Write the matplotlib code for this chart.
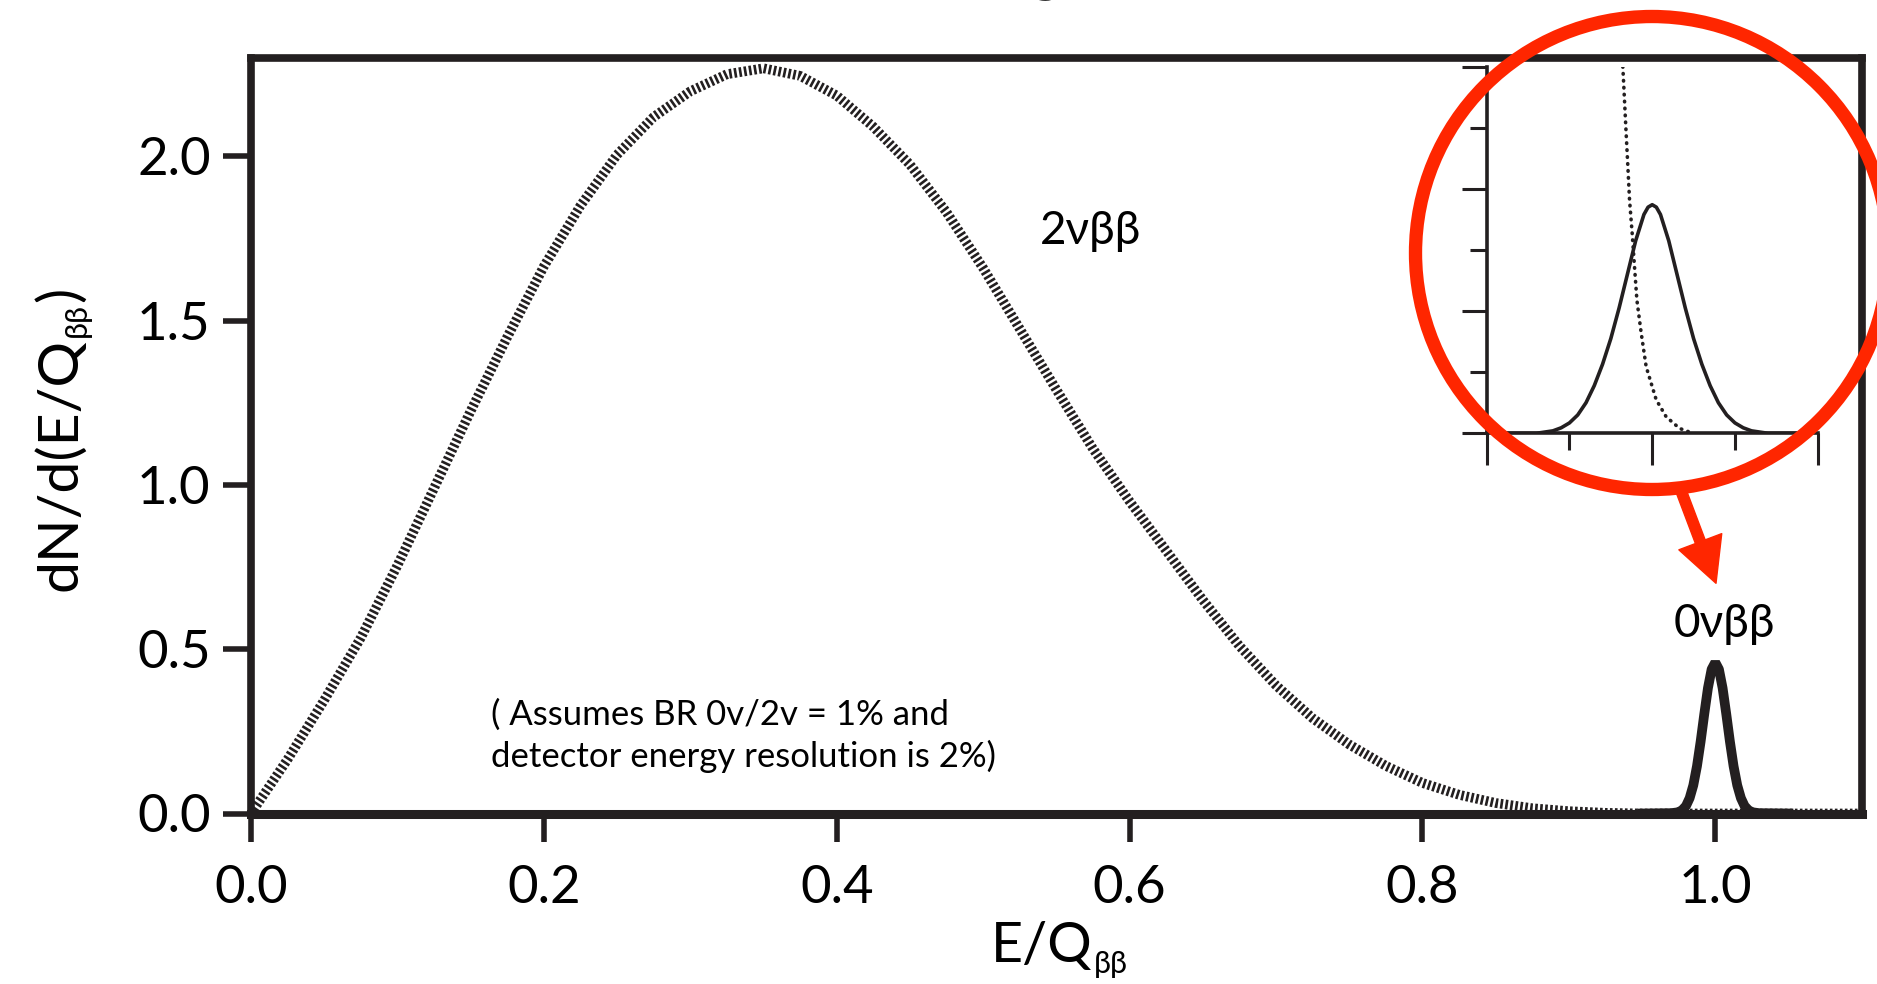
import matplotlib
matplotlib.use("Agg")
import matplotlib.pyplot as plt
from matplotlib.patches import Ellipse, FancyArrowPatch
from matplotlib.ticker import FixedLocator

# two-neutrino continuum, E/Q vs dN/d(E/Q)
e_2nu = [0.000, 0.025, 0.050, 0.075, 0.100, 0.125, 0.150, 0.175, 0.200, 0.225,
         0.250, 0.275, 0.300, 0.325, 0.350, 0.375, 0.400, 0.425, 0.450, 0.475,
         0.500, 0.525, 0.550, 0.575, 0.600, 0.625, 0.650, 0.675, 0.700, 0.725,
         0.750, 0.775, 0.800, 0.825, 0.850, 0.875, 0.900, 0.925, 0.950, 1.100]
n_2nu = [0.000, 0.165, 0.345, 0.535, 0.755, 0.990, 1.225, 1.450, 1.665, 1.850,
         2.005, 2.120, 2.198, 2.250, 2.268, 2.245, 2.185, 2.090, 1.975, 1.830,
         1.660, 1.475, 1.290, 1.110, 0.950, 0.800, 0.650, 0.510, 0.390, 0.290,
         0.210, 0.145, 0.093, 0.057, 0.032, 0.016, 0.007, 0.002, 0.000, 0.000]

# neutrinoless peak at the endpoint
e_0nu = [0.950, 0.970, 0.975, 0.9775, 0.980, 0.9825, 0.985, 0.9875, 0.990, 0.9925,
         0.995, 0.9975, 1.000, 1.0025, 1.005, 1.0075, 1.010, 1.0125, 1.015, 1.0175,
         1.020, 1.0225, 1.025, 1.030, 1.050]
n_0nu = [0.000, 0.001, 0.004, 0.011, 0.023, 0.047, 0.086, 0.144, 0.219, 0.303,
         0.382, 0.439, 0.460, 0.439, 0.382, 0.303, 0.219, 0.144, 0.086, 0.047,
         0.023, 0.011, 0.004, 0.001, 0.000]

# magnified view around the endpoint (arbitrary units)
zoom_x_peak = [-2.0, -1.4, -1.2, -1.1, -1.0, -0.9, -0.8, -0.7, -0.6, -0.5,
               -0.4, -0.3, -0.2, -0.1, -0.05, 0.0, 0.05, 0.1, 0.2, 0.3,
               0.4, 0.5, 0.6, 0.7, 0.8, 0.9, 1.0, 1.1, 1.2, 1.4, 1.9]
zoom_y_peak = [0.00, 0.00, 0.04, 0.09, 0.17, 0.30, 0.50, 0.78, 1.13, 1.55,
               2.05, 2.60, 3.15, 3.58, 3.70, 3.74, 3.70, 3.58, 3.15, 2.60,
               2.05, 1.55, 1.13, 0.78, 0.50, 0.30, 0.17, 0.09, 0.04, 0.00, 0.00]
zoom_x_tail = [-0.355, -0.315, -0.294, -0.274, -0.242, -0.214, -0.185, -0.133,
               -0.073, 0.048, 0.169, 0.331, 0.492]
zoom_y_tail = [6.00, 4.91, 4.36, 3.82, 3.27, 2.73, 2.18, 1.64, 1.09, 0.55,
               0.27, 0.08, 0.00]

x_ticks = [0.0, 0.2, 0.4, 0.6, 0.8, 1.0]
x_labels = ["0.0", "0.2", "0.4", "0.6", "0.8", "1.0"]
y_ticks = [0.0, 0.5, 1.0, 1.5, 2.0]
y_labels = ["0.0", "0.5", "1.0", "1.5", "2.0"]

INK = "#231f20"
RED = "#ff2600"

plt.rcParams["font.family"] = ["Lato", "Noto Sans", "DejaVu Sans"]
plt.rcParams["lines.scale_dashes"] = False

W, H = 1877, 984
fig = plt.figure(figsize=(W / 100, H / 100), dpi=100)
fig.patch.set_facecolor("white")
renderer = fig.canvas.get_renderer()


def fx(px):
    return px / W


def fy(py):
    # pixel rows are counted from the top
    return 1 - py / H


ax = fig.add_axes([fx(251), fy(813.5), fx(1861.7 - 251), (813.5 - 57.8) / H])
ax.plot(e_2nu, n_2nu, color=INK, lw=7, dashes=(1.9, 1.7))
ax.plot(e_0nu, n_0nu, color=INK, lw=7, solid_joinstyle="bevel", clip_on=False, zorder=3)
ax.set_xlim(0, 1.1)
ax.set_ylim(0, 2.3)

ax.set_xticks(x_ticks, x_labels)
ax.set_yticks(y_ticks, y_labels)
for side, sp in ax.spines.items():
    sp.set_linewidth(6.5 if side == "bottom" else 5.5)
    sp.set_color(INK)
ax.tick_params(direction="out", length=20, width=4, color=INK, labelsize=38)
ax.tick_params(axis="x", pad=17)
ax.tick_params(axis="y", pad=9)

# axis titles with a lowered, smaller ββ subscript
xl = fig.text(fx(991), fy(961.7), "E/Q", fontsize=40, ha="left", va="baseline")
bb = xl.get_window_extent(renderer)
fig.text((bb.x1 + 1) / W, fy(973), "ββ", fontsize=22, ha="left", va="baseline")

yl = fig.text(fx(76.7), fy(591), "dN/d(E/Q", fontsize=41, rotation=90,
              rotation_mode="anchor", ha="left", va="baseline")
bb = yl.get_window_extent(renderer)
ys = fig.text(fx(85.5), (bb.y1 + 1) / H, "ββ", fontsize=22, rotation=90,
              rotation_mode="anchor", ha="left", va="baseline")
bb = ys.get_window_extent(renderer)
fig.text(fx(76.7), (bb.y1 + 1) / H, ")", fontsize=41, rotation=90,
         rotation_mode="anchor", ha="left", va="baseline")

ax.text(0.5386, 1.733, "2νββ", fontsize=33, ha="left", va="baseline")
ax.text(1.006, 0.537, "0νββ", fontsize=33, ha="center", va="baseline")
ax.text(0.164, 0.269, "( Assumes BR 0v/2v = 1% and", fontsize=25, ha="left", va="baseline")
ax.text(0.164, 0.142, "detector energy resolution is 2%)", fontsize=25, ha="left", va="baseline")

# title sits almost entirely above the canvas
fig.text(fx(905), 1 + 12 / H, "Energy spectrum", fontsize=44, fontweight="bold",
         ha="left", va="baseline")

# magnified endpoint
ins = fig.add_axes([fx(1486.7), fy(433.3), fx(331), 366.7 / H])
ins.patch.set_visible(False)
ins.plot(zoom_x_peak, zoom_y_peak, color=INK, lw=2.6)
ins.plot(zoom_x_tail, zoom_y_tail, color=INK, lw=2.6, dashes=(0.4, 4.6),
         dash_capstyle="round")
ins.set_xlim(-2, 2)
ins.set_ylim(0, 6)
ins.spines["top"].set_visible(False)
ins.spines["right"].set_visible(False)
for side in ("left", "bottom"):
    ins.spines[side].set_linewidth(2.6)
    ins.spines[side].set_color(INK)
ins.xaxis.set_major_locator(FixedLocator([-2, 0, 2]))
ins.xaxis.set_minor_locator(FixedLocator([-1, 1]))
ins.yaxis.set_major_locator(FixedLocator([0, 2, 4, 6]))
ins.yaxis.set_minor_locator(FixedLocator([1, 3, 5]))
ins.tick_params(which="both", direction="out", width=2.2, color=INK,
                labelbottom=False, labelleft=False)
ins.tick_params(axis="x", which="major", length=23)
ins.tick_params(axis="y", which="major", length=18)
ins.tick_params(which="minor", length=12)

ring = Ellipse((fx(1652), fy(253)), 2 * 236.5 / W, 2 * 236.5 / H,
               transform=fig.transFigure, fill=False, ec=RED, lw=9.6)
fig.add_artist(ring)
arrow = FancyArrowPatch((fx(1680), fy(488)), (fx(1716), fy(583.3)),
                        transform=fig.transFigure, mutation_scale=10,
                        arrowstyle="simple,head_length=3.2,head_width=3.3,tail_width=0.75",
                        color=RED, shrinkA=0, shrinkB=0)
fig.add_artist(arrow)

fig.savefig("out.png", dpi=100)
